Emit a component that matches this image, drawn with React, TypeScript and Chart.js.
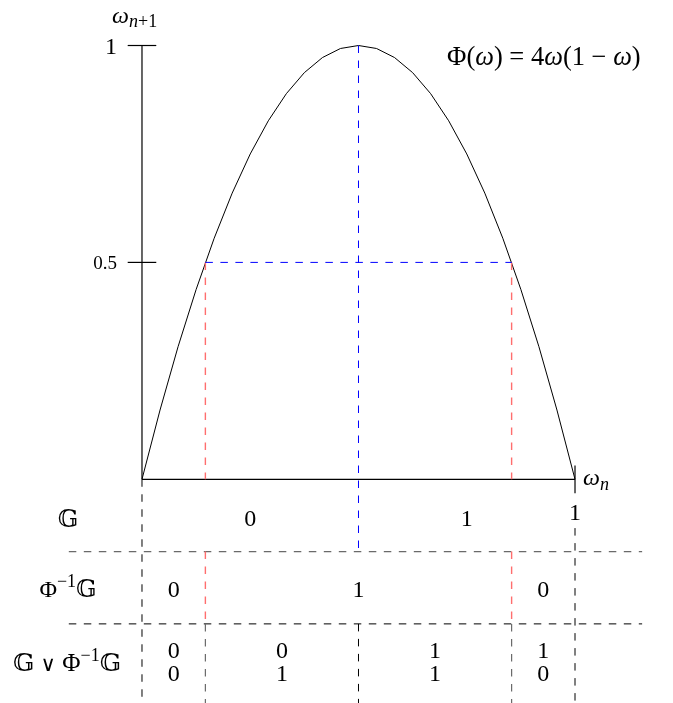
import React, { useEffect, useRef } from "react";
import { Chart, registerables } from "chart.js";

Chart.register(...registerables);

// ---- data ----
const curveX = [0, 0.0417, 0.0833, 0.125, 0.1667, 0.2083, 0.25, 0.2917, 0.3333, 0.375, 0.4167, 0.4583, 0.5, 0.5417, 0.5833, 0.625, 0.6667, 0.7083, 0.75, 0.7917, 0.8333, 0.875, 0.9167, 0.9583, 1];
const curveY = [0, 0.1597, 0.3056, 0.4375, 0.5556, 0.6597, 0.75, 0.8264, 0.8889, 0.9375, 0.9722, 0.9931, 1, 0.9931, 0.9722, 0.9375, 0.8889, 0.8264, 0.75, 0.6597, 0.5556, 0.4375, 0.3056, 0.1597, 0];
const yTicks = [1, 0.5];
const yTickLabels = ["1", "0.5"];
const xTicks = [1];
const xTickLabels = ["1"];
const peakX = 0.5;
const halfLevel = 0.5;
const preimageX = [0.1464, 0.8536];
const gValues = ["0", "1"];
const gLabelX = [0.25, 0.75];
const phiValues = ["0", "1", "0"];
const phiLabelX = [0.0732, 0.5, 0.9268];
const joinTop = ["0", "0", "1", "1"];
const joinBottom = ["0", "1", "1", "0"];
const joinLabelX = [0.0732, 0.3232, 0.6768, 0.9268];

// ---- layout ----
const X_MIN = -0.3279;
const X_MAX = 1.2263;
const Y_MIN = -0.5157;
const Y_MAX = 1.1049;
const ROW1 = -0.1667;
const ROW2 = -0.3333;
const BOTTOM = Y_MIN;
const LEFT = -0.169;
const RIGHT = 1.155;
const TICK_X = 0.033;
const TICK_Y = 0.032;
const DASH = [7.5, 7.5];
const BLACK = "#000000";
const GREY = "#6a6a6a";
const RED = "#ff6e6e";
const BLUE = "#0000ff";
const SERIF = '"Liberation Serif", "DejaVu Serif", "DejaVu Sans", serif';

type Run = { t: string; size?: number; italic?: boolean; dy?: number };

function drawRuns(ctx: CanvasRenderingContext2D, runs: Run[], x: number, y: number, align: "left" | "center" | "right", base = 24) {
  const font = (r: Run) => `${r.italic ? "italic " : ""}${r.size ?? base}px ${SERIF}`;
  let total = 0;
  const widths = runs.map((r) => {
    ctx.font = font(r);
    const w = ctx.measureText(r.t).width;
    total += w;
    return w;
  });
  let cx = align === "left" ? x : align === "center" ? x - total / 2 : x - total;
  ctx.textAlign = "left";
  ctx.textBaseline = "alphabetic";
  ctx.fillStyle = "#000";
  runs.forEach((r, i) => {
    ctx.font = font(r);
    ctx.fillText(r.t, cx, y + (r.dy ?? 0));
    cx += widths[i];
  });
}

const G = "\u{1D53E}";

export default function App() {
  const ref = useRef<HTMLCanvasElement | null>(null);

  useEffect(() => {
    const canvas = ref.current;
    if (!canvas) return;
    const datasets: any[] = [];
    const seg = (pts: number[][], color: string, dash: number[] = [], width = 1) => {
      datasets.push({
        data: pts.map(([x, y]) => ({ x, y })),
        borderColor: color,
        borderWidth: width,
        borderDash: dash,
        pointRadius: 0,
        showLine: true,
        fill: false,
        tension: 0,
      });
    };

    // dashed guides
    seg([[peakX, 1], [peakX, ROW1]], BLUE, DASH);
    seg([[preimageX[0], halfLevel], [preimageX[1], halfLevel]], BLUE, DASH);
    preimageX.forEach((p) => {
      seg([[p, halfLevel], [p, 0]], RED, DASH, 1.4);
      seg([[p, ROW1], [p, ROW2]], RED, DASH, 1.4);
      seg([[p, ROW2], [p, BOTTOM]], GREY, DASH, 1.2);
    });
    seg([[peakX, ROW2], [peakX, BOTTOM]], BLACK, DASH);
    seg([[LEFT, ROW1], [RIGHT, ROW1]], GREY, DASH, 1.2);
    seg([[LEFT, ROW2], [RIGHT, ROW2]], BLACK, DASH);
    seg([[0, 0], [0, BOTTOM]], BLACK, DASH);
    seg([[1, -0.1125], [1, BOTTOM]], BLACK, DASH);

    // axes and ticks
    seg([[0, 0], [1, 0]], BLACK, [], 1.2);
    seg([[0, 0], [0, 1]], BLACK, [], 1.2);
    yTicks.forEach((t) => seg([[-TICK_X, t], [TICK_X, t]], BLACK, [], 1.2));
    xTicks.forEach((t) => seg([[t, -TICK_Y], [t, TICK_Y]], BLACK, [], 1.2));

    // curve
    seg(curveX.map((x, i) => [x, curveY[i]]), BLACK);

    const textPlugin = {
      id: "texts",
      afterDatasetsDraw(chart: any) {
        const ctx: CanvasRenderingContext2D = chart.ctx;
        const sx = chart.scales.x;
        const sy = chart.scales.y;
        const px = (v: number) => sx.getPixelForValue(v);
        const py = (v: number) => sy.getPixelForValue(v);
        ctx.save();
        // axis titles
        drawRuns(ctx, [{ t: "ω", italic: true }, { t: "n", size: 18, italic: true, dy: 4 }, { t: "+1", size: 18, dy: 4 }], px(-0.069), py(1.0514), "left");
        drawRuns(ctx, [{ t: "ω", italic: true }, { t: "n", size: 18, italic: true, dy: 5 }], px(1.0185), py(-0.0131), "left");
        // y tick labels
        yTicks.forEach((t, i) => {
          const small = yTickLabels[i] !== "1";
          drawRuns(ctx, [{ t: yTickLabels[i], size: small ? 19 : 24 }], px(-0.0577), py(t) + (small ? 7 : 8), "right");
        });
        // x tick label
        xTicks.forEach((t, i) => {
          drawRuns(ctx, [{ t: xTickLabels[i] }], px(t), py(-0.0938), "center");
        });
        // formula
        drawRuns(
          ctx,
          [
            { t: "Φ(" },
            { t: "ω", italic: true },
            { t: ") = 4" },
            { t: "ω", italic: true },
            { t: "(1 − " },
            { t: "ω", italic: true },
            { t: ")" },
          ],
          px(0.7044),
          py(0.9551),
          "left",
          26.5
        );
        // row labels
        const rowX = px(-0.1709);
        drawRuns(ctx, [{ t: G }], rowX, py(-0.11), "center");
        drawRuns(ctx, [{ t: "Φ" }, { t: "−1", size: 18, dy: -10 }, { t: G }], rowX, py(-0.2713), "center");
        drawRuns(ctx, [{ t: G + " ", size: 25 }, { t: "∨", size: 21 }, { t: " Φ", size: 25 }, { t: "−1", size: 18, dy: -10 }, { t: G, size: 25 }], rowX - 1, py(-0.4419), "center");
        // row values
        gValues.forEach((v, i) => drawRuns(ctx, [{ t: v }], px(gLabelX[i]), py(-0.1077), "center"));
        phiValues.forEach((v, i) => drawRuns(ctx, [{ t: v }], px(phiLabelX[i]), py(-0.2713), "center"));
        joinTop.forEach((v, i) => drawRuns(ctx, [{ t: v }], px(joinLabelX[i]), py(-0.412), "center"));
        joinBottom.forEach((v, i) => drawRuns(ctx, [{ t: v }], px(joinLabelX[i]), py(-0.465), "center"));
        ctx.restore();
      },
    };

    const chart = new Chart(canvas, {
      type: "scatter",
      data: { datasets },
      options: {
        animation: false,
        responsive: false,
        devicePixelRatio: 1,
        layout: { padding: 0 },
        plugins: { legend: { display: false }, tooltip: { enabled: false } },
        scales: {
          x: { type: "linear", min: X_MIN, max: X_MAX, display: false },
          y: { type: "linear", min: Y_MIN, max: Y_MAX, display: false },
        },
      },
      plugins: [textPlugin],
    });
    return () => chart.destroy();
  }, []);

  return (
    <div style={{ position: "absolute", left: 0, top: 0, width: 673, height: 703, background: "#fff" }}>
      <canvas ref={ref} width={673} height={703} style={{ display: "block" }} />
    </div>
  );
}
